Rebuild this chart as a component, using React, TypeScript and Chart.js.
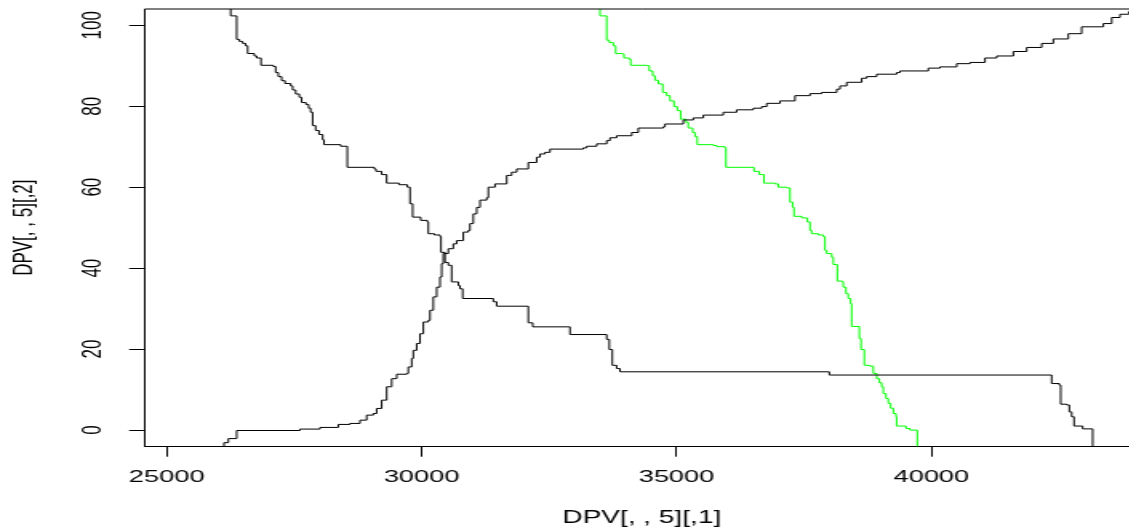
import React, { useEffect, useRef } from "react";
import { Chart, registerables } from "chart.js";

Chart.register(...registerables);

// ---- axis settings ----
const X_TICKS = [25000, 30000, 35000, 40000];
const Y_TICKS = [0, 20, 40, 60, 80, 100];
const X_MIN = 24568;
const X_MAX = 44072;
const Y_MIN = -4;
const Y_MAX = 104;
const X_TITLE = "DPV[, , 5][,1]";
const Y_TITLE = "DPV[, , 5][,2]";

// ---- black descending step curve ----
const descX = [26200, 26255, 26373, 26425, 26490, 26549, 26588, 26719, 26765, 26850, 27092, 27138, 27190, 27255, 27321, 27432, 27471, 27530, 27602, 27648, 27733, 27785, 27824, 27863, 27922, 27988, 28060, 28086, 28413, 28543, 29073, 29106, 29217, 29315, 29557, 29720, 29773, 29825, 29982, 30113, 30132, 30250, 30361, 30381, 30459, 30525, 30590, 30721, 30753, 30806, 31407, 31473, 32093, 32180, 32911, 33631, 33682, 33741, 33827, 33892, 37998, 42360, 42509, 42537, 42654, 42706, 42752, 42798, 42968, 43164];
const descY = [115, 102.3, 96.5, 96.0, 95.5, 94.9, 93.0, 92.4, 91.9, 90.1, 89.8, 88.3, 87.3, 86.3, 85.6, 85.0, 84.0, 83.0, 82.2, 80.9, 80.4, 79.5, 78.5, 75.2, 74.0, 73.0, 71.7, 70.5, 70.1, 64.9, 64.5, 63.9, 63.1, 61.0, 60.6, 60.0, 55.9, 52.6, 51.8, 51.4, 48.5, 48.2, 47.8, 43.9, 41.4, 40.7, 36.6, 35.7, 34.9, 32.5, 31.7, 30.6, 26.5, 25.5, 23.6, 22.4, 19.9, 16.0, 15.2, 14.4, 13.6, 11.5, 11.1, 6.4, 6.2, 4.5, 3.3, 1.0, 0.3, -10];

// ---- black ascending step curve ----
const ascX = [26000, 26124, 26209, 26373, 27615, 28007, 28366, 28596, 28792, 28923, 29053, 29119, 29217, 29316, 29414, 29512, 29708, 29739, 29806, 29837, 29904, 29969, 30034, 30132, 30165, 30230, 30296, 30361, 30394, 30426, 30524, 30622, 30689, 30818, 30916, 30949, 31014, 31081, 31146, 31277, 31309, 31440, 31670, 31767, 31866, 32093, 32258, 32323, 32421, 32519, 33172, 33239, 33435, 33631, 33696, 33827, 34122, 34251, 34741, 34775, 35134, 35330, 35526, 35918, 36181, 36507, 36672, 36770, 37031, 37325, 37620, 37848, 38143, 38208, 38339, 38633, 38731, 38927, 39320, 39385, 39940, 40169, 40497, 40758, 41052, 41282, 41608, 41870, 42164, 42392, 42686, 42948, 43373, 43537, 43700, 43876, 44000];
const ascY = [-10, -3.1, -2.1, -0.1, 0.25, 0.66, 1.4, 1.65, 2.46, 3.7, 4.1, 5.35, 7.4, 10.7, 12.7, 13.8, 14.0, 15.6, 17.7, 19.7, 21.4, 23.8, 26.7, 27.1, 29.6, 32.9, 35.3, 37.8, 41.1, 43.6, 44.8, 46.0, 46.8, 48.9, 49.3, 51.0, 53.4, 55.0, 56.8, 57.4, 60.0, 60.8, 62.9, 63.7, 64.5, 66.1, 67.4, 68.2, 68.6, 69.4, 69.7, 70.1, 70.7, 71.5, 72.2, 72.7, 73.5, 74.6, 74.9, 75.6, 76.6, 77.1, 77.8, 78.5, 79.1, 79.5, 79.9, 80.7, 81.3, 82.6, 83.1, 83.4, 84.2, 85.0, 85.9, 86.9, 87.3, 87.9, 88.3, 88.7, 89.4, 89.7, 90.5, 90.8, 91.9, 92.4, 93.5, 94.5, 95.5, 96.6, 97.9, 99.6, 100.4, 101.9, 102.7, 103.4, 110];

// ---- green descending step curve ----
const greenX = [33400, 33500, 33631, 33682, 33761, 33807, 33945, 33970, 34075, 34102, 34416, 34467, 34534, 34579, 34644, 34730, 34808, 34873, 34952, 35016, 35083, 35187, 35232, 35318, 35363, 35408, 35722, 35789, 35951, 35971, 36520, 36624, 36716, 36932, 36997, 37162, 37227, 37280, 37305, 37456, 37566, 37619, 37652, 37782, 37880, 37913, 37947, 38045, 38076, 38155, 38260, 38272, 38325, 38370, 38417, 38436, 38587, 38620, 38685, 38796, 38861, 38927, 38979, 39025, 39057, 39110, 39155, 39202, 39254, 39306, 39319, 39502, 39580, 39724];
const greenY = [120, 102.3, 96.3, 95.7, 94.9, 93.0, 92.9, 91.9, 91.6, 90.1, 90.0, 88.7, 87.5, 86.4, 85.5, 83.4, 82.6, 81.3, 79.9, 78.9, 76.8, 76.0, 74.6, 73.5, 72.5, 70.5, 70.3, 70.0, 69.7, 64.9, 63.9, 63.1, 61.0, 60.8, 60.0, 59.8, 56.3, 55.0, 52.8, 52.4, 51.4, 49.3, 48.5, 48.2, 47.8, 44.4, 43.6, 42.7, 40.9, 36.8, 36.6, 35.3, 33.7, 32.5, 31.2, 25.6, 22.6, 19.9, 16.0, 15.8, 14.0, 12.7, 11.7, 10.7, 9.0, 7.8, 6.6, 5.4, 4.1, 3.3, 1.0, 0.4, 0.0, -10];

// ---- canvas geometry (canvas is stretched horizontally like the reference) ----
const STRETCH = 1.6;
const CANVAS_W = 720;
const CANVAS_H = 529;
const PLOT_RIGHT = 1139 / STRETCH;
const Y_AXIS_W = 144.7 / STRETCH;
const X_AXIS_H = 529 - 446.3;
const FONT = "'Liberation Sans', Arial, Helvetica, sans-serif";

export default function App() {
  const ref = useRef<HTMLCanvasElement>(null);

  useEffect(() => {
    const canvas = ref.current;
    if (!canvas) return;
    const toPts = (xs: number[], ys: number[]) => xs.map((x, i) => ({ x, y: ys[i] }));

    const boxPlugin = {
      id: "rbox",
      afterDraw(chart: any) {
        const { ctx, chartArea: a } = chart;
        ctx.save();
        ctx.strokeStyle = "#000";
        ctx.lineWidth = 1;
        ctx.beginPath();
        ctx.moveTo(a.left, a.top);
        ctx.lineTo(a.right, a.top);
        ctx.lineTo(a.right, a.bottom);
        ctx.stroke();
        ctx.restore();
      },
    };

    const common = {
      showLine: true,
      stepped: "before" as const,
      pointRadius: 0,
      borderWidth: 1,
      fill: false,
      tension: 0,
    };

    const noPad = (s: any) => {
      s.paddingTop = 0;
      s.paddingBottom = 0;
      s.paddingLeft = 0;
      s.paddingRight = 0;
    };

    const chart = new Chart(canvas, {
      type: "line",
      data: {
        datasets: [
          { ...common, data: toPts(descX, descY), borderColor: "#000000" },
          { ...common, data: toPts(ascX, ascY), borderColor: "#000000" },
          { ...common, data: toPts(greenX, greenY), borderColor: "#00ff00" },
        ],
      },
      options: {
        responsive: false,
        animation: false,
        devicePixelRatio: 1,
        events: [],
        layout: { padding: { top: 9, right: CANVAS_W - PLOT_RIGHT, left: 0, bottom: 0 } },
        plugins: { legend: { display: false }, tooltip: { enabled: false } },
        scales: {
          x: {
            type: "linear",
            min: X_MIN,
            max: X_MAX,
            afterBuildTicks: (s: any) => {
              s.ticks = X_TICKS.map((v) => ({ value: v }));
            },
            afterFit: (s: any) => {
              s.height = X_AXIS_H;
              noPad(s);
            },
            grid: { display: true, drawOnChartArea: false, drawTicks: true, tickLength: 10.4, tickColor: "#000", tickWidth: 1 },
            border: { display: true, color: "#000", width: 1 },
            ticks: {
              color: "#000",
              font: { family: FONT, size: 17 },
              padding: 10,
              minRotation: 0,
              maxRotation: 0,
              autoSkip: false,
              callback: (v: any) => String(v),
            },
            title: {
              display: true,
              text: X_TITLE,
              color: "#000",
              font: { family: FONT, size: 17.5 },
              padding: { top: 0, bottom: 0.2 },
            },
          },
          y: {
            type: "linear",
            min: Y_MIN,
            max: Y_MAX,
            afterBuildTicks: (s: any) => {
              s.ticks = Y_TICKS.map((v) => ({ value: v }));
            },
            afterFit: (s: any) => {
              s.width = Y_AXIS_W;
              noPad(s);
            },
            grid: { display: true, drawOnChartArea: false, drawTicks: true, tickLength: 9.7, tickColor: "#000", tickWidth: 1 },
            border: { display: true, color: "#000", width: 1 },
            ticks: {
              color: "#000",
              font: { family: FONT, size: 17 },
              padding: 8,
              minRotation: 90,
              maxRotation: 90,
              crossAlign: "center",
              autoSkip: false,
              callback: (v: any) => String(v),
            },
            title: {
              display: true,
              text: Y_TITLE,
              color: "#000",
              font: { family: FONT, size: 17 },
              padding: { top: 5, bottom: 0 },
            },
          },
        },
      },
      plugins: [boxPlugin],
    } as any);

    return () => chart.destroy();
  }, []);

  return (
    <div
      style={{
        position: "absolute",
        left: 0,
        top: 0,
        width: 1129,
        height: 529,
        overflow: "hidden",
        background: "#ffffff",
      }}
    >
      <canvas
        ref={ref}
        width={CANVAS_W}
        height={CANVAS_H}
        style={{ width: `${CANVAS_W * STRETCH}px`, height: `${CANVAS_H}px`, display: "block" }}
      />
    </div>
  );
}
